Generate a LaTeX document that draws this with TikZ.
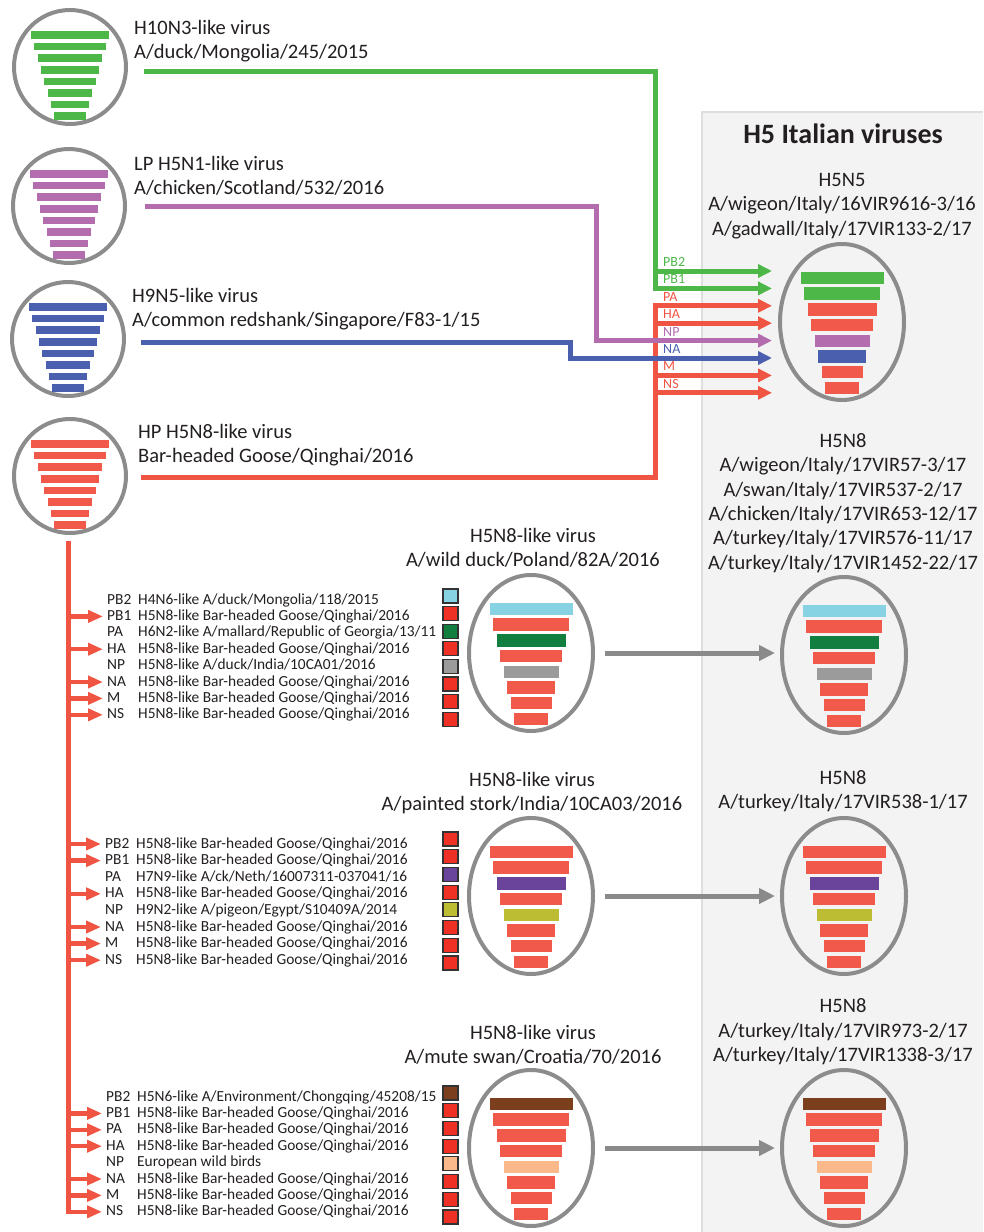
\documentclass[tikz,border=0pt]{standalone}
\usepackage{fontspec}
\setmainfont{Carlito}
\usepackage{xcolor}
\definecolor{ink}{HTML}{231F20}
\definecolor{segGreen}{HTML}{4DB848}
\definecolor{segPurple}{HTML}{B36CAE}
\definecolor{segBlue}{HTML}{4A5FAE}
\definecolor{segRed}{HTML}{F15A4A}
\definecolor{lineRed}{HTML}{F05442}
\definecolor{boxRed}{HTML}{EE3124}
\definecolor{segCyan}{HTML}{88D3E3}
\definecolor{segDkGreen}{HTML}{127E40}
\definecolor{segGray}{HTML}{9B9B9B}
\definecolor{segViolet}{HTML}{6A449A}
\definecolor{segOlive}{HTML}{BCBD32}
\definecolor{segBrown}{HTML}{7B3F1D}
\definecolor{segPeach}{HTML}{F9B98A}
\definecolor{ringGray}{HTML}{8C8C8C}
\definecolor{arrowGray}{HTML}{8A8A8A}
\definecolor{panelGray}{HTML}{F3F3F3}
\definecolor{panelEdge}{HTML}{DEDEDE}
\usepackage{tikz}
\usetikzlibrary{%
    shapes.geometric,
    arrows.meta,
    positioning
}

% eight segments, one colour, inside a small ring
\newcommand{\smallcone}[2]{%
  \begin{scope}[shift={(#1.center)}]
    \foreach \i in {0,...,7}{
      \pgfmathsetmacro{\w}{39-3.35*\i}
      \fill[#2] (-\w,-35.75+11.6*\i) rectangle (\w,-28.25+11.6*\i);
    }
  \end{scope}}

% eight segments, own colours, inside a big ring
\newcommand{\bigcone}[2]{%
  \begin{scope}[shift={(#1.center)}]
    \foreach \c [count=\i from 0] in {#2}{
      \pgfmathsetmacro{\w}{41.5-3.5*\i}
      \fill[\c] (-\w,-50.25+15.7*\i) rectangle (\w,-37.75+15.7*\i);
    }
  \end{scope}}

\begin{document}
\begin{tikzpicture}[x=1pt, y=-1pt,
                every node/.style={text=ink},
                ring/.style={ellipse, draw=ringGray, line width=4pt, inner sep=0pt},
                smallring/.style={ring, minimum width=112pt, minimum height=114pt},
                bigring/.style={ring, minimum width=124pt, minimum height=156pt},
                srclabel/.style={align=left, anchor=west, inner sep=0pt, font=\fontsize{20.5}{24.5}\selectfont},
                strain/.style={align=center, inner sep=0pt, font=\fontsize{20.5}{24.4}\selectfont},
                paneltitle/.style={inner sep=0pt, font=\fontsize{28}{32}\selectfont\bfseries},
                seg/.style={inner sep=0pt, anchor=west, font=\fontsize{14}{16}\selectfont},
                gene/.style={inner sep=0pt, anchor=west, text height=11pt, text depth=3pt, font=\fontsize{15.4}{17}\selectfont},
                colbox/.style={draw=black!80, line width=1.2pt, minimum width=15pt, minimum height=14pt, inner sep=0pt},
                flow/.style={draw=#1, line width=5pt, -{Triangle[length=14pt,width=13pt]}},
                transfer/.style={draw=arrowGray, line width=5pt, -{Triangle[length=16pt,width=15pt]}, shorten <=10pt, shorten >=5pt},
                genearrow/.style={draw=lineRed, line width=4.5pt, -{Triangle[length=15pt,width=12pt]}, shorten >=4pt},
                trunk/.style={draw=lineRed, line width=5pt, line cap=rect}
            ]

            \useasboundingbox (0,0) rectangle (983,1232);

            % Italian panel
            \fill[panelGray] (702,112) rectangle (983,1232);
            \draw[panelEdge, line width=1.5pt] (702,1232) |- (983,112);
            \node (paneltitle) [paneltitle] at (843,134) {H5 Italian viruses};

            % donor viruses, top left
            \node (h10n3) [smallring] at (70,67) {};
            \node (h5n1) [smallring] at (69,206) {};
            \node (h9n5) [smallring] at (68,339) {};
            \node (h5n8) [smallring] at (70,476) {};
            \smallcone{h10n3}{segGreen}
            \smallcone{h5n1}{segPurple}
            \smallcone{h9n5}{segBlue}
            \smallcone{h5n8}{segRed}

            \node (h10n3lbl) [srclabel] at (134,41) {H10N3-like virus\\A/duck/Mongolia/245/2015};
            \node (h5n1lbl) [srclabel] at (134,176) {LP H5N1-like virus\\A/chicken/Scotland/532/2016};
            \node (h9n5lbl) [srclabel] at (132,309) {H9N5-like virus\\A/common redshank/Singapore/F83-1/15};
            \node (h5n8lbl) [srclabel] at (138,445) {HP H5N8-like virus\\Bar-headed Goose/Qinghai/2016};

            % H5N5 reassortant
            \node (italyA) [strain] at (842,206) {H5N5\\A/wigeon/Italy/16VIR9616-3/16\\A/gadwall/Italy/17VIR133-2/17};
            \node (h5n5) [bigring] at (842,322) {};
            \bigcone{h5n5}{segGreen,segGreen,segRed,segRed,segPurple,segBlue,segRed,segRed}

            \coordinate (jct) at (655,0);
            \coordinate (pjct) at (596,0);
            \coordinate (bjct) at (570,0);
            \coordinate (h10n3out) at (144,71);
            \coordinate (h5n1out) at (145,206);
            \coordinate (h9n5out) at (141,342);
            \coordinate (h5n8out) at (141,477);
            \foreach \g/\c [count=\k from 0] in {PB2/segGreen,PB1/segGreen,PA/lineRed,HA/lineRed,NP/segPurple,NA/segBlue,M/lineRed,NS/lineRed}{
                \coordinate (in\g) at (772,271+17.4*\k);
                \node (lab\g) [seg, text=\c] at (663,262+17.4*\k) {\g};
            }

            \draw [flow=lineRed] (h5n8out) -| (inPA -| jct) -- (inPA);
            \foreach \g in {HA,M,NS}
                \draw [flow=lineRed] (in\g -| jct) -- (in\g);
            \draw [flow=segGreen] (h10n3out) -| (inPB1 -| jct) -- (inPB1);
            \draw [flow=segGreen] (inPB2 -| jct) -- (inPB2);
            \draw [flow=segPurple] (h5n1out) -| (inNP -| pjct) -- (inNP);
            \draw [flow=segBlue] (h9n5out) -| (inNA -| bjct) -- (inNA);

            % H5N8 reassortants
            \node (italyB) [strain] at (843,503) {H5N8\\A/wigeon/Italy/17VIR57-3/17\\A/swan/Italy/17VIR537-2/17\\A/chicken/Italy/17VIR653-12/17\\A/turkey/Italy/17VIR576-11/17\\A/turkey/Italy/17VIR1452-22/17};
            \node (italyC) [strain] at (843,791) {H5N8\\A/turkey/Italy/17VIR538-1/17};
            \node (italyD) [strain] at (843,1032) {H5N8\\A/turkey/Italy/17VIR973-2/17\\A/turkey/Italy/17VIR1338-3/17};
            \node (italyBring) [bigring] at (844,655) {};
            \node (italyCring) [bigring] at (844,896) {};
            \node (italyDring) [bigring] at (844,1148) {};
            \bigcone{italyBring}{segCyan,segRed,segDkGreen,segRed,segGray,segRed,segRed,segRed}
            \bigcone{italyCring}{segRed,segRed,segViolet,segRed,segOlive,segRed,segRed,segRed}
            \bigcone{italyDring}{segBrown,segRed,segRed,segRed,segPeach,segRed,segRed,segRed}

            \node (donorA) [strain] at (533,548) {H5N8-like virus\\A/wild duck/Poland/82A/2016};
            \node (donorB) [strain] at (532,793) {H5N8-like virus\\A/painted stork/India/10CA03/2016};
            \node (donorC) [strain] at (533,1045) {H5N8-like virus\\A/mute swan/Croatia/70/2016};
            \node (donorAring) [bigring] at (531,653) {};
            \node (donorBring) [bigring] at (531,896) {};
            \node (donorCring) [bigring] at (531,1148) {};
            \bigcone{donorAring}{segCyan,segRed,segDkGreen,segRed,segGray,segRed,segRed,segRed}
            \bigcone{donorBring}{segRed,segRed,segViolet,segRed,segOlive,segRed,segRed,segRed}
            \bigcone{donorCring}{segBrown,segRed,segRed,segRed,segPeach,segRed,segRed,segRed}

            \draw [transfer] (donorAring.east) -- (donorAring.east -| italyBring.west);
            \draw [transfer] (donorBring.east) -- (donorBring.east -| italyCring.west);
            \draw [transfer] (donorCring.east) -- (donorCring.east -| italyDring.west);

            % segment origins
            \coordinate (trunktop) at (68,543);
            \foreach \g/\src/\c/\arr [count=\k from 0] in {
                PB2/{H4N6-like A/duck/Mongolia/118/2015}/segCyan/0,
                PB1/{H5N8-like Bar-headed Goose/Qinghai/2016}/boxRed/1,
                PA/{H6N2-like A/mallard/Republic of Georgia/13/11}/segDkGreen/0,
                HA/{H5N8-like Bar-headed Goose/Qinghai/2016}/boxRed/1,
                NP/{H5N8-like A/duck/India/10CA01/2016}/segGray/0,
                NA/{H5N8-like Bar-headed Goose/Qinghai/2016}/boxRed/1,
                M/{H5N8-like Bar-headed Goose/Qinghai/2016}/boxRed/1,
                NS/{H5N8-like Bar-headed Goose/Qinghai/2016}/boxRed/1}{
                \node (gA\k) [gene] at (107,600+16.4*\k) {\g};
                \node (sA\k) [gene] at (138,600+16.4*\k) {\src};
                \node (qA\k) [colbox, fill=\c] at (450.5,596+17.6*\k) {};
                \ifnum\arr=1 \draw [genearrow] (gA\k.west -| trunktop) -- (gA\k.west); \fi
            }
            \foreach \g/\src/\c/\arr [count=\k from 0] in {
                PB2/{H5N8-like Bar-headed Goose/Qinghai/2016}/boxRed/1,
                PB1/{H5N8-like Bar-headed Goose/Qinghai/2016}/boxRed/1,
                PA/{H7N9-like A/ck/Neth/16007311-037041/16}/segViolet/0,
                HA/{H5N8-like Bar-headed Goose/Qinghai/2016}/boxRed/1,
                NP/{H9N2-like A/pigeon/Egypt/S10409A/2014}/segOlive/0,
                NA/{H5N8-like Bar-headed Goose/Qinghai/2016}/boxRed/1,
                M/{H5N8-like Bar-headed Goose/Qinghai/2016}/boxRed/1,
                NS/{H5N8-like Bar-headed Goose/Qinghai/2016}/boxRed/1}{
                \node (gB\k) [gene] at (105,844+16.6*\k) {\g};
                \node (sB\k) [gene] at (136,844+16.6*\k) {\src};
                \node (qB\k) [colbox, fill=\c] at (450.5,839+17.7*\k) {};
                \ifnum\arr=1 \draw [genearrow] (gB\k.west -| trunktop) -- (gB\k.west); \fi
            }
            \foreach \g/\src/\c/\arr [count=\k from 0] in {
                PB2/{H5N6-like A/Environment/Chongqing/45208/15}/segBrown/0,
                PB1/{H5N8-like Bar-headed Goose/Qinghai/2016}/boxRed/1,
                PA/{H5N8-like Bar-headed Goose/Qinghai/2016}/boxRed/1,
                HA/{H5N8-like Bar-headed Goose/Qinghai/2016}/boxRed/1,
                NP/{European wild birds}/segPeach/0,
                NA/{H5N8-like Bar-headed Goose/Qinghai/2016}/boxRed/1,
                M/{H5N8-like Bar-headed Goose/Qinghai/2016}/boxRed/1,
                NS/{H5N8-like Bar-headed Goose/Qinghai/2016}/boxRed/1}{
                \node (gC\k) [gene] at (106,1097+16.4*\k) {\g};
                \node (sC\k) [gene] at (137,1097+16.4*\k) {\src};
                \node (qC\k) [colbox, fill=\c] at (450.5,1093+17.7*\k) {};
                \ifnum\arr=1 \draw [genearrow] (gC\k.west -| trunktop) -- (gC\k.west); \fi
            }
            \draw [trunk] (trunktop) -- (gC7.west -| trunktop);
        \end{tikzpicture}
\end{document}
